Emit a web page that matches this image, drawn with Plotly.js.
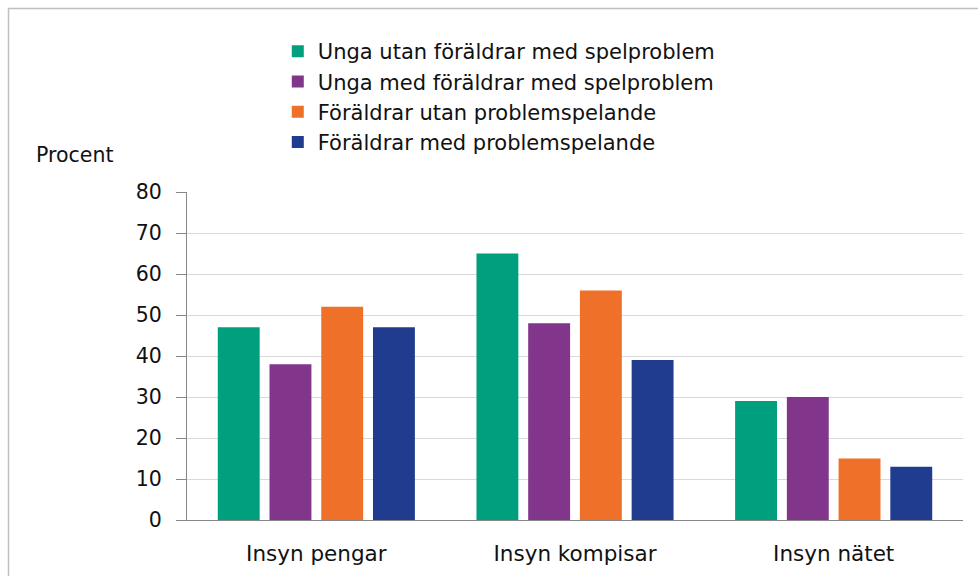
<!DOCTYPE html>
<html>
<head>
<meta charset="utf-8">
<script src="https://cdn.plot.ly/plotly-3.0.1.min.js"></script>
<style>html,body{margin:0;padding:0;background:#fff;}#chart{width:978px;height:576px;}</style>
</head>
<body>
<div id="chart"></div>
<script>
var categories = ["Insyn pengar", "Insyn kompisar", "Insyn nätet"];
var seriesNames = [
  "Unga utan föräldrar med spelproblem",
  "Unga med föräldrar med spelproblem",
  "Föräldrar utan problemspelande",
  "Föräldrar med problemspelande"
];
var ungaUtan = [47, 65, 29];
var ungaMed = [38, 48, 30];
var foraldrarUtan = [52, 56, 15];
var foraldrarMed = [47, 39, 13];
var colors = ["#00A07F", "#81368C", "#EF7129", "#1F3C8E"];
var yTicks = [0, 10, 20, 30, 40, 50, 60, 70, 80];

var values = [ungaUtan, ungaMed, foraldrarUtan, foraldrarMed];
var traces = values.map(function (v, i) {
  return {
    type: "bar",
    name: seriesNames[i],
    legendgroup: "g" + i,
    x: categories,
    y: v,
    marker: {color: colors[i]},
    hoverinfo: "x+y"
  };
});

var FONT = "DejaVu Sans, Verdana, sans-serif";
var FS = 20.5;
var layout = {
  width: 978, height: 576,
  margin: {l: 187, r: 15, t: 192, b: 56, pad: 0},
  paper_bgcolor: "#fff", plot_bgcolor: "#fff",
  font: {family: FONT, size: FS, color: "#111"},
  barmode: "group",
  bargap: 0.2,
  bargroupgap: 0.19,
  showlegend: true,
  legend: {
    x: 0.117, xanchor: "left",
    y: 1 - 31/576, yref: "container", yanchor: "top",
    font: {family: FONT, size: 21, color: "#111"},
    bgcolor: "rgba(0,0,0,0)",
    traceorder: "grouped",
    tracegroupgap: 0
  },
  xaxis: {
    showgrid: false, zeroline: false,
    showline: true, linecolor: "#868686", linewidth: 1,
    ticks: "", tickfont: {family: FONT, size: 21.5, color: "#111"},
    ticklabelstandoff: 14
  },
  yaxis: {
    range: [0, 80], tickvals: yTicks, ticktext: yTicks.map(String),
    showgrid: true, gridcolor: "#d9d9d9", gridwidth: 1,
    zeroline: false, showline: true, linecolor: "#868686", linewidth: 1,
    ticks: "outside", ticklen: 10, tickcolor: "#868686",
    tickfont: {family: FONT, size: FS, color: "#111"},
    ticklabelstandoff: 10
  },
  annotations: [{
    text: "Procent", xref: "paper", yref: "paper",
    x: (34 - 187) / 776, y: (520 - 155) / 328,
    xanchor: "left", yanchor: "middle", showarrow: false,
    font: {family: FONT, size: FS, color: "#111"}
  }],
  shapes: [
    {type: "line", xref: "paper", yref: "paper",
     x0: (8 - 187) / 776, x1: (990 - 187) / 776,
     y0: (520 - 8.5) / 328, y1: (520 - 8.5) / 328,
     line: {color: "#bfbfbf", width: 1.5}},
    {type: "line", xref: "paper", yref: "paper",
     x0: (8.5 - 187) / 776, x1: (8.5 - 187) / 776,
     y0: (520 - 8) / 328, y1: (520 - 590) / 328,
     line: {color: "#bfbfbf", width: 1.5}}
  ]
};

Plotly.newPlot("chart", traces, layout, {displayModeBar: false, staticPlot: true});
</script>
</body>
</html>
